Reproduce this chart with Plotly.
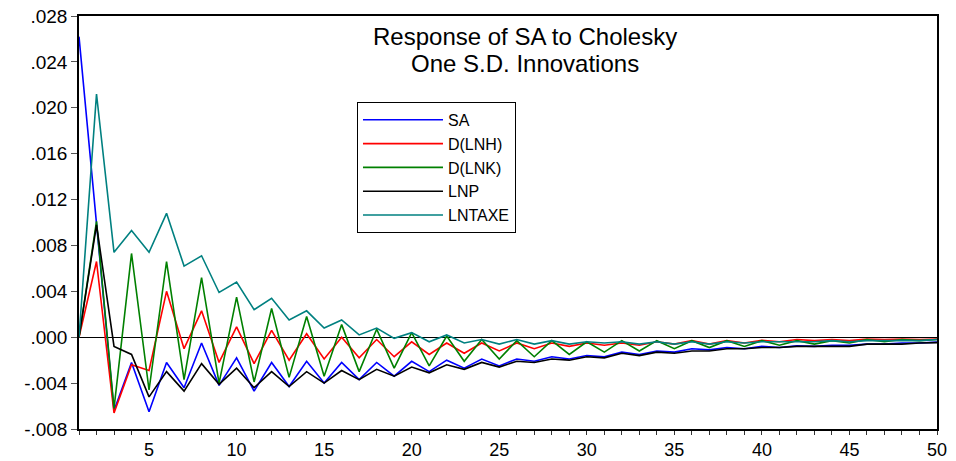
import plotly.graph_objects as go

periods = list(range(1, 51))

sa = [0.0262, 0.0100, -0.0064, -0.0022, -0.0065, -0.0022, -0.0044, -0.0005, -0.0042, -0.0018,
      -0.0047, -0.0022, -0.0043, -0.0021, -0.0040, -0.0022, -0.0037, -0.0022, -0.0034, -0.0021,
      -0.0030, -0.0020, -0.0027, -0.0019, -0.0025, -0.0019, -0.0021, -0.0017, -0.0019, -0.0016,
      -0.0017, -0.0013, -0.0015, -0.0012, -0.0013, -0.0010, -0.0011, -0.0009, -0.0010, -0.0008,
      -0.0009, -0.00075, -0.0008, -0.0007, -0.0007, -0.0006, -0.0006, -0.0005, -0.0005, -0.00043]

d_lnh = [0.0, 0.0066, -0.0066, -0.0024, -0.0029, 0.0040, -0.0010, 0.0023, -0.0022, 0.0009,
         -0.0023, 0.0006, -0.0020, 0.0003, -0.0019, 0.0000, -0.0018, -0.0002, -0.0017, -0.0004,
         -0.0015, -0.0005, -0.0014, -0.0005, -0.0012, -0.0005, -0.0010, -0.0005, -0.0008, -0.0005,
         -0.0007, -0.0005, -0.0007, -0.0004, -0.0006, -0.0003, -0.0006, -0.0003, -0.0005, -0.00026,
         -0.0004, -0.0002, -0.0003, -0.0002, -0.0003, -0.00017, -0.0002, -0.00015, -0.0002, -0.00015]

d_lnk = [0.0, 0.0101, -0.0062, 0.0073, -0.0046, 0.0066, -0.0037, 0.0052, -0.0040, 0.0035,
         -0.0039, 0.0025, -0.0035, 0.0018, -0.0034, 0.0011, -0.0030, 0.0007, -0.0027, 0.0004,
         -0.0025, 0.0001, -0.0021, -0.0002, -0.0019, -0.0003, -0.0017, -0.0003, -0.0015, -0.0004,
         -0.0013, -0.0003, -0.0012, -0.0003, -0.0010, -0.0003, -0.0009, -0.0003, -0.0008, -0.0003,
         -0.0007, -0.0003, -0.0006, -0.0003, -0.0005, -0.0002, -0.0004, -0.0002, -0.0003, -0.0002]

lnp = [0.0, 0.0098, -0.0008, -0.0015, -0.0052, -0.0030, -0.0047, -0.0023, -0.0041, -0.0027,
       -0.0044, -0.0030, -0.0043, -0.0030, -0.0040, -0.0029, -0.0037, -0.0028, -0.0034, -0.0026,
       -0.0031, -0.0024, -0.0028, -0.0022, -0.0026, -0.0021, -0.0022, -0.0019, -0.0020, -0.0017,
       -0.0018, -0.0014, -0.0016, -0.0013, -0.0014, -0.0012, -0.0012, -0.0010, -0.0010, -0.0009,
       -0.0009, -0.0008, -0.0008, -0.0008, -0.0008, -0.0006, -0.0006, -0.0006, -0.0005, -0.00047]

lntaxe = [0.0, 0.0212, 0.0074, 0.0093, 0.0074, 0.0108, 0.0062, 0.0071, 0.0039, 0.0048,
          0.0024, 0.0034, 0.0015, 0.0023, 0.0008, 0.0015, 0.0002, 0.0008, -0.0001, 0.0004,
          -0.0004, 0.0002, -0.0005, -0.0002, -0.0006, -0.0002, -0.0006, -0.0003, -0.0006, -0.0004,
          -0.0005, -0.0004, -0.0006, -0.0004, -0.0006, -0.0004, -0.0006, -0.0004, -0.0005, -0.0004,
          -0.0004, -0.0004, -0.0004, -0.0003, -0.0004, -0.0003, -0.0003, -0.0003, -0.0003, -0.0002]

series_names = ["SA", "D(LNH)", "D(LNK)", "LNP", "LNTAXE"]
series_values = [sa, d_lnh, d_lnk, lnp, lntaxe]
series_colors = ["#0000FF", "#FF0000", "#008000", "#000000", "#008080"]

y_tickvals = [-0.008, -0.004, 0.0, 0.004, 0.008, 0.012, 0.016, 0.020, 0.024, 0.028]
y_ticktext = ["-.008", "-.004", ".000", ".004", ".008", ".012", ".016", ".020", ".024", ".028"]
x_ticktext = [str(p) if p % 5 == 0 else "" for p in periods]

title_lines = ["Response of SA to Cholesky", "One S.D. Innovations"]

FONT = "Liberation Sans, Arial, sans-serif"

fig = go.Figure()
for name, vals, col in zip(series_names, series_values, series_colors):
    fig.add_trace(go.Scatter(x=periods, y=vals, mode="lines", name=name,
                             line=dict(color=col, width=1.6)))

title_annots = [
    dict(text=title_lines[0], x=0.520, y=0.950),
    dict(text=title_lines[1], x=0.520, y=0.886),
]
for a in title_annots:
    a.update(xref="paper", yref="paper", xanchor="center", yanchor="middle",
             showarrow=False, font=dict(family=FONT, size=24, color="black"))

fig.update_layout(
    width=956, height=461,
    margin=dict(l=79, r=19, t=16, b=32),
    paper_bgcolor="white", plot_bgcolor="white",
    font=dict(family=FONT, size=18, color="black"),
    showlegend=True,
    legend=dict(x=0.324, y=0.792, xanchor="left", yanchor="top",
                bordercolor="black", borderwidth=1, bgcolor="white",
                font=dict(family=FONT, size=16, color="black"),
                tracegroupgap=0, itemwidth=80),
    annotations=title_annots,
)

fig.update_xaxes(range=[1, 50], tickvals=periods, ticktext=x_ticktext, automargin=False,
                 ticks="outside", ticklen=4, tickcolor="#333", tickwidth=1,
                 showline=True, linecolor="black", linewidth=1.5, mirror=True,
                 showgrid=False, zeroline=False,
                 tickfont=dict(family=FONT, size=18, color="black"))
fig.update_yaxes(range=[-0.008, 0.028], tickvals=y_tickvals, ticktext=y_ticktext, automargin=False,
                 ticks="outside", ticklen=6, tickcolor="#555", tickwidth=1,
                 showline=True, linecolor="black", linewidth=1.5, mirror=True,
                 showgrid=False, zeroline=True, zerolinecolor="black", zerolinewidth=1,
                 tickfont=dict(family=FONT, size=19, color="black"))

fig.write_html("out.html")
